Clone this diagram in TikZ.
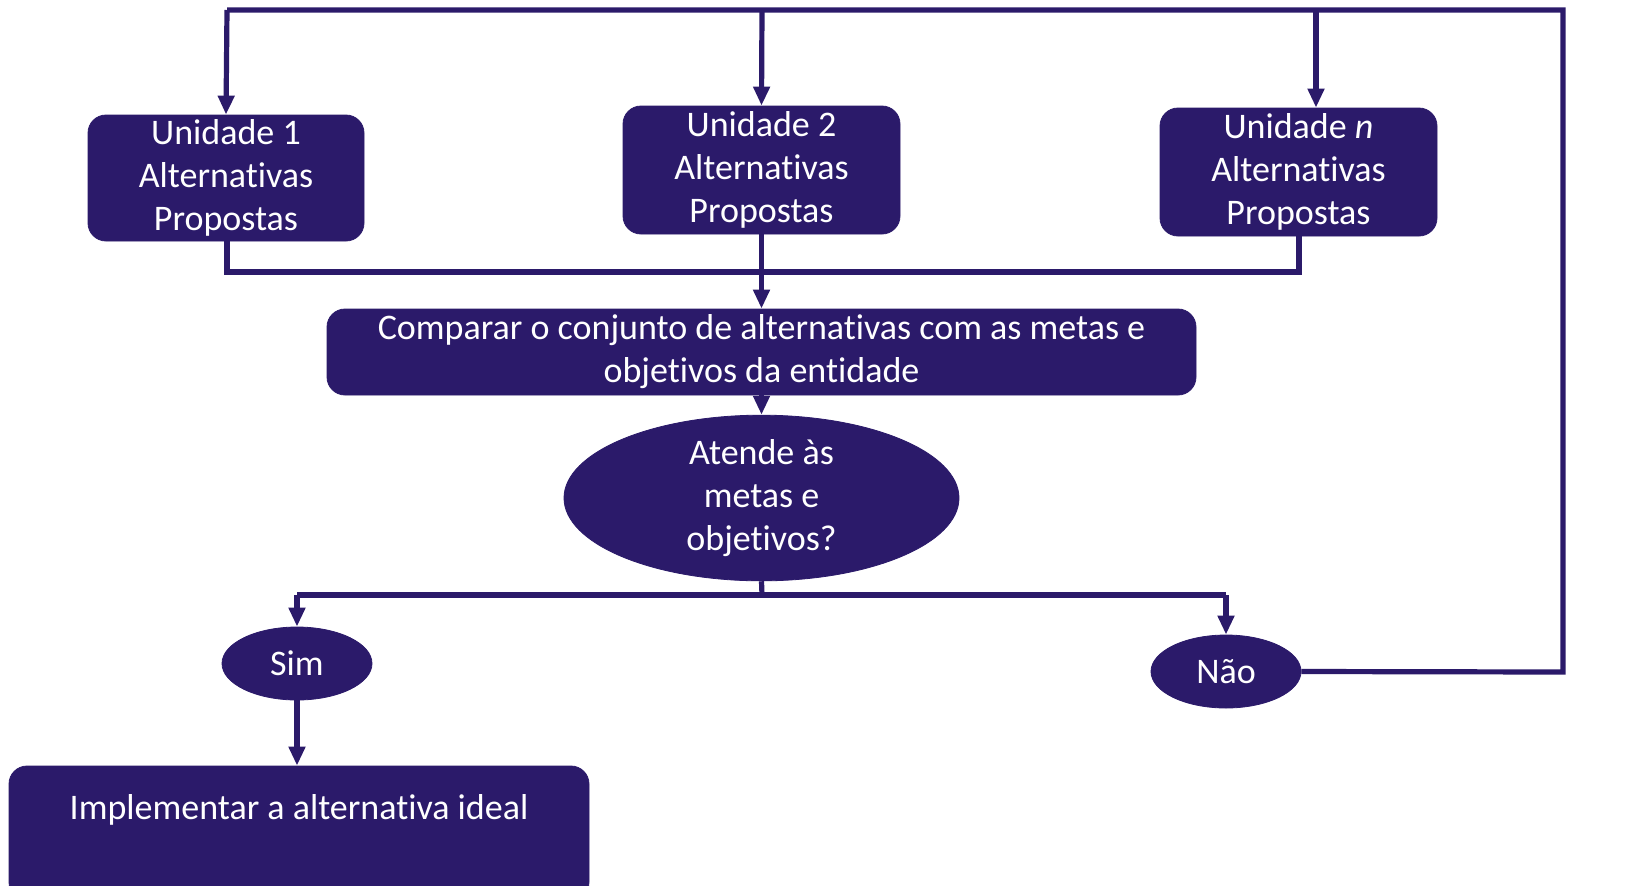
\documentclass[tikz,border=0pt]{standalone}
\usepackage{fontspec}
\setmainfont{Carlito}[RawFeature={-liga;-clig;-dlig;-calt}]
\usetikzlibrary{shapes.geometric,arrows.meta}
\definecolor{ink}{RGB}{43,26,106}
\tikzset{
  box/.style={draw=ink,fill=ink,rounded corners=9pt,text=white,align=center,inner sep=0pt,
    font=\fontsize{18pt}{21.5pt}\selectfont},
  oval/.style={ellipse,draw=ink,fill=ink,text=white,align=center,inner sep=0pt,
    font=\fontsize{18pt}{21.5pt}\selectfont},
  lbl/.style={text=white,align=center,inner sep=0pt,font=\fontsize{18pt}{21.5pt}\selectfont},
  conn/.style={draw=ink,line width=2.6pt},
  arr/.style={conn,-{Triangle[length=9.5pt,width=8pt]}},
}
\begin{document}
\begin{tikzpicture}[x=0.5pt,y=-0.5pt]
\useasboundingbox (0,0) rectangle (1633,885);
\node[box,minimum width=138pt,minimum height=63pt] (u1) at (226,178) {Unidade 1\\Alternativas\\Propostas};
\node[box,minimum width=138.5pt,minimum height=64pt] (u2) at (761.5,170) {Unidade 2\\Alternativas\\Propostas};
\node[box,minimum width=138.5pt,minimum height=64pt] (un) at (1298.5,172) {Unidade \textit{n}\\Alternativas\\Propostas};
\node[box,minimum width=434.5pt,minimum height=43pt] (comp) at (761.5,352) {Comparar o conjunto de alternativas com as metas e\\objetivos da entidade};
\node[oval,minimum width=197.5pt,minimum height=65pt] (q) at (761.5,498) {Atende às\\metas e\\objetivos?};
\node[oval,minimum width=75pt,minimum height=36.5pt] (sim) at (297,663.5) {Sim};
\node[oval,minimum width=75pt,minimum height=36.5pt] (nao) at (1226,671.5) {Não};
\node[box,minimum width=290pt,minimum height=67pt] (impl) at (299,833) {};
\node[lbl] (impltxt) at (299,810) {Implementar a alternativa ideal};
% coordinates
\coordinate (tr) at (1563,10);
\coordinate (br) at (1563,672);
\coordinate (tl) at (227,10);
\coordinate (t2) at (762,10);
\coordinate (tn) at (1316,10);
\coordinate (m1) at (227,272);
\coordinate (mn) at (1299,272);
\coordinate (qb) at (762,595);
\coordinate (bs) at (297,595);
\coordinate (bn) at (1226,595);
% feedback loop
\draw[conn,line join=miter] (nao.east) -- (br) -- (tr) -- (tl);
\draw[arr] (tl) -- (u1.north);
\draw[arr] (t2) -- (u2.north);
\draw[arr] (tn) -- (tn |- un.north);
% merge
\draw[conn] (u1.south -| m1) -- (m1) -- (mn) -- (mn |- un.south);
\draw[arr] (u2.south) -- (comp.north);
\draw[arr] (comp.south) -- (q.north);
% decision
\draw[conn] (q.south) -- (qb);
\draw[conn,line join=miter] (bs) -- (bn);
\draw[arr] (bs) -- (sim.north);
\draw[arr] (bn) -- (nao.north);
\draw[arr] (sim.south) -- (sim.south |- impl.north);
\end{tikzpicture}
\end{document}
